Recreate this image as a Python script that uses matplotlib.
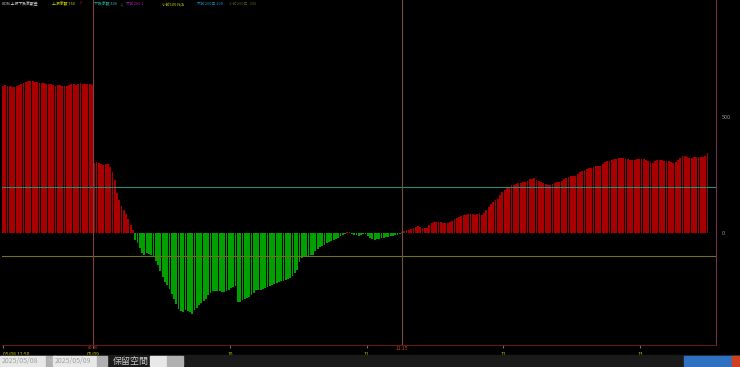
import numpy as np
import matplotlib
matplotlib.use("Agg")
import matplotlib.pyplot as plt
from matplotlib.patches import Rectangle

plt.rcParams["font.family"] = ["Noto Sans CJK TC", "DejaVu Sans"]

# 05/08 12:51 - 13:30 (one bar per minute)
day1 = [635, 636, 634, 633, 630, 628, 632, 636, 640, 645,
        652, 656, 657, 655, 652, 649, 648, 647, 645, 642,
        643, 642, 639, 635, 638, 636, 635, 634, 635, 636,
        642, 640, 638, 641, 645, 644, 642, 642, 642, 638]

# 05/09 09:01 - 13:30
day2 = [302, 305, 300, 298, 292, 298, 295, 286, 262, 230,
        170, 140, 118, 100, 80, 58, 34, 12, -30, -45,
        -65, -85, -95, -88, -92, -97, -102, -120, -140, -162,
        -190, -210, -226, -243, -262, -286, -308, -326, -336, -339,
        -334, -337, -340, -349, -334, -324, -312, -303, -294, -283,
        -268, -258, -252, -250, -249, -251, -253, -256, -250, -245,
        -236, -231, -228, -296, -296, -291, -286, -280, -274, -267,
        -261, -248, -246, -246, -240, -236, -232, -229, -223, -219,
        -216, -213, -208, -206, -203, -200, -194, -184, -172, -158,
        -125, -110, -104, -101, -99, -97, -95, -80, -70, -60,
        -55, -50, -45, -40, -36, -30, -26, -20, -14, -8,
        -4, 3, 5, -4, -10, -8, -12, -10, -6, -5,
        -12, -20, -26, -30, -28, -24, -22, -20, -18, -17,
        -15, -12, -9, -7, -3, 2, 9, 11, 13, 16,
        20, 26, 30, 27, 22, 20, 21, 36, 44, 46,
        49, 47, 46, 42, 42, 43, 46, 50, 58, 63,
        70, 74, 77, 78, 80, 82, 80, 78, 82, 85,
        79, 84, 97, 112, 125, 134, 140, 148, 164, 175,
        186, 194, 200, 205, 206, 210, 214, 216, 218, 221,
        226, 232, 234, 237, 230, 224, 219, 214, 211, 208,
        207, 212, 216, 218, 220, 222, 232, 238, 243, 246,
        245, 247, 254, 262, 266, 271, 274, 278, 282, 286,
        289, 288, 287, 296, 304, 308, 312, 316, 318, 320,
        322, 323, 322, 320, 318, 316, 315, 316, 318, 319,
        320, 318, 316, 312, 306, 303, 308, 313, 316, 314,
        311, 310, 308, 304, 302, 306, 315, 322, 330, 332,
        327, 323, 324, 326, 326, 328, 328, 329, 330, 345]

values = np.array(day1 + day2)
xpos = np.arange(len(values))

tick_pos = [0, 39.5, 99.5, 159.5, 219.5, 279.5]
tick_txt = ["05/08 12:50", "05/09", "10", "11", "12", "13"]

header = [("XDN 上漲下跌家數差", "#d8d8d8", 2), ("上漲家數 750", "#d8d800", 52),
          ("下跌家數 408", "#20b0a0", 94), ("大於200 1", "#b020b0", 126),
          ("小於100 N/A", "#d8d800", 162), ("大於200日 200", "#2090d0", 197),
          ("小於200日 -200", "#606020", 229)]

fig = plt.figure(figsize=(7.4, 3.67), dpi=100, facecolor="black")
ax = fig.add_axes([2 / 740, 22 / 367, 714 / 740, 345 / 367])
ax.set_facecolor("black")

colors = np.where(values >= 0, "#a80000", "#00a000")
ax.bar(xpos, values, width=0.8, color=colors, linewidth=0)

ax.axhline(200, color="#2a8a78", linewidth=0.8)
ax.axhline(-100, color="#707020", linewidth=0.8)
ax.axvline(39.5, color="#804040", linewidth=0.8)
ax.axvline(175, color="#705040", linewidth=0.8)

ax.set_xlim(-0.44, 312.7)
ax.set_ylim(-483, 1004)

for s in ["top", "left"]:
    ax.spines[s].set_visible(False)
ax.spines["right"].set_color("#703050")
ax.spines["bottom"].set_color("#601820")

ax.yaxis.tick_right()
ax.set_yticks([0, 500])
ax.tick_params(axis="y", colors="#909090", labelsize=4, length=0, pad=4)

ax.set_xticks(tick_pos)
ax.set_xticklabels(tick_txt)
ax.tick_params(axis="x", colors="#707070", labelcolor="#c8c800", labelsize=3.5, length=2, pad=3)
ax.get_xticklabels()[0].set_ha("left")

ax.text(175, -0.002, "11:15", transform=ax.get_xaxis_transform(), color="#d04020",
        fontsize=3.5, ha="center", va="top")
ax.text(39.5, -0.002, "09:00", transform=ax.get_xaxis_transform(), color="#d04020",
        fontsize=3, ha="center", va="top")

# header legend
for txt, c, px in header:
    fig.text(px / 740, 1 - 4 / 367, txt, color=c, fontsize=2.8, va="center", ha="left")
fig.text(79 / 740, 1 - 4 / 367, "↑", color="#e02020", fontsize=2.8, va="center")
fig.text(120 / 740, 1 - 4 / 367, "↓", color="#20c020", fontsize=2.8, va="center")

# bottom control strip
fig.add_artist(Rectangle((0, 0), 1, 12 / 367, transform=fig.transFigure, color="#1a1a1a"))
for bx, bw, txt in [(0, 46, "2025/05/08"), (53, 44, "2025/05/09")]:
    fig.add_artist(Rectangle((bx / 740, 1 / 367), bw / 740, 10 / 367,
                             transform=fig.transFigure, color="#e8e8e8"))
    fig.text((bx + 2) / 740, 6 / 367, txt, color="#a0a0a0", fontsize=5, va="center")
    fig.add_artist(Rectangle(((bx + bw) / 740, 1 / 367), 10 / 740, 10 / 367,
                             transform=fig.transFigure, color="#b0b0b0"))
fig.text(48 / 740, 6 / 367, "~", color="#d0d0d0", fontsize=5, va="center")
fig.text(113 / 740, 6 / 367, "保留空間", color="#c8c8c8", fontsize=6.5, va="center")
fig.add_artist(Rectangle((150 / 740, 1 / 367), 17 / 740, 10 / 367,
                         transform=fig.transFigure, color="#e8e8e8"))
fig.add_artist(Rectangle((167 / 740, 1 / 367), 16 / 740, 10 / 367,
                         transform=fig.transFigure, color="#b0b0b0"))
fig.add_artist(Rectangle((684 / 740, 1 / 367), 56 / 740, 10 / 367,
                         transform=fig.transFigure, color="#3070c0"))
fig.add_artist(Rectangle((732 / 740, 1 / 367), 8 / 740, 10 / 367,
                         transform=fig.transFigure, color="#d04020"))

fig.savefig("out.png", dpi=100, facecolor="black")
